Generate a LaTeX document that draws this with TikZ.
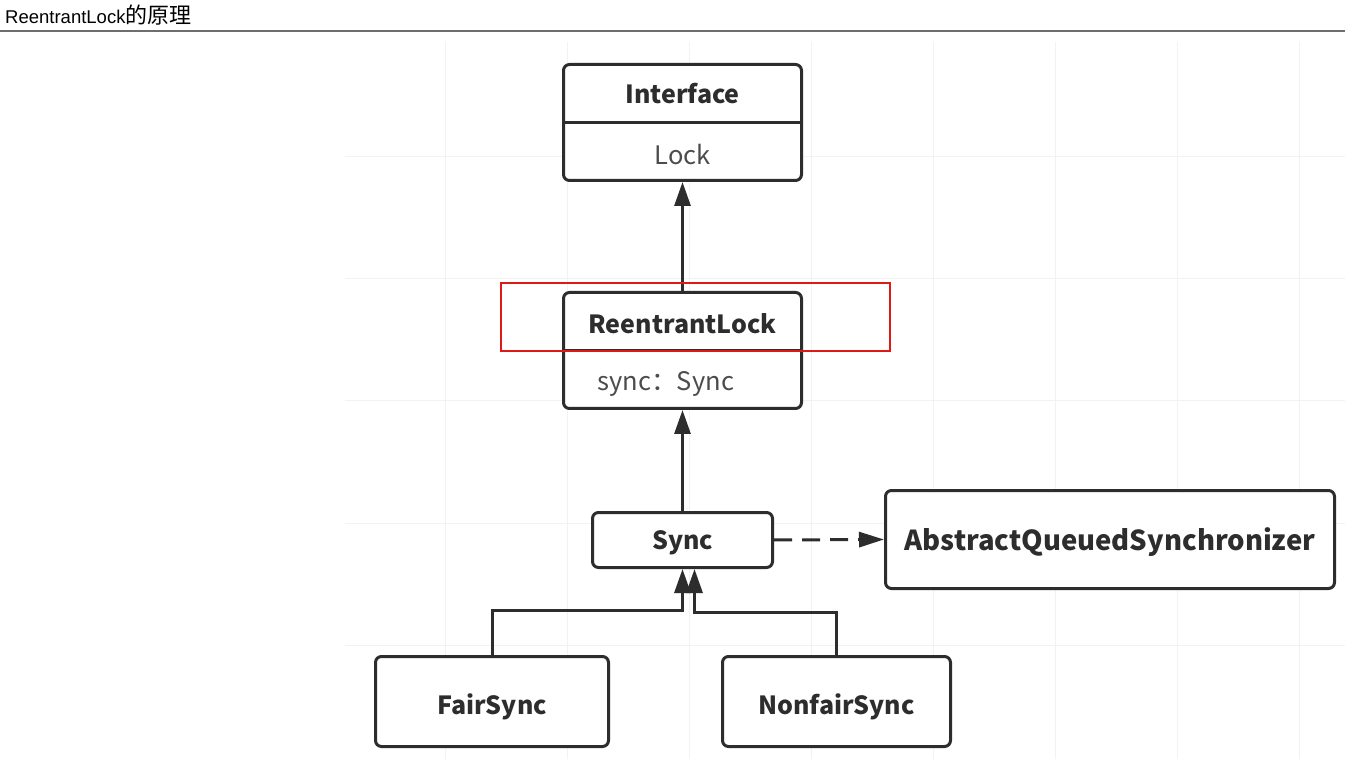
\documentclass[tikz,border=0pt]{standalone}
\usepackage{fontspec}
\setmainfont{Liberation Sans}
\newfontfamily\cjk{Noto Sans CJK SC}
\usepackage{tikz}
\usetikzlibrary{arrows.meta,positioning,calc}
\definecolor{ink}{RGB}{45,45,45}
\definecolor{hlred}{RGB}{222,26,22}
\definecolor{gridc}{RGB}{242,242,242}
\definecolor{rule}{RGB}{110,110,110}
\tikzset{
  classbox/.style={draw=ink, line width=3pt, rounded corners=6pt, fill=white, inner sep=0pt},
  ttl/.style={font=\cjk\bfseries\fontsize{25}{28}\selectfont, text=ink, inner sep=0pt, yshift=-3pt},
  attr/.style={font=\cjk\fontsize{25.5}{28}\selectfont, text=ink!85, inner sep=0pt, yshift=-2pt},
  inherit/.style={draw=ink, line width=3pt, -{Triangle[length=24pt,width=16pt]}},
  depend/.style={draw=ink, line width=3pt, dash pattern=on 18pt off 10pt,
    -{Triangle[length=25pt,width=15pt]}},
  % 背景网格
  gridline/.style={draw=gridc, line width=1pt}
}

\begin{document}
\begin{tikzpicture}[x=1pt, y=-1pt]
  \useasboundingbox (0,0) rectangle (1345,759);
  \fill[white] (0,0) rectangle (1345,759);

  \node[anchor=west, inner sep=0pt, font=\fontsize{18.5}{20}\selectfont] (title) at (5,15)
    {ReentrantLock{\cjk\fontsize{22}{22}\selectfont 的原理}};
  \draw[rule, line width=2pt] (0,31) -- (1345,31);

  \foreach \gx in {445,567,...,1299}
    \draw[gridline] (\gx,42) -- (\gx,759);
  \foreach \gy in {157,279,...,645}
    \draw[gridline] (345,\gy) -- (1345,\gy);

  \node[classbox, minimum width=238pt, minimum height=116pt] (iface) at (682.5,122.5) {};
  \draw[ink, line width=3pt] (iface.west) -- (iface.east);
  \node[ttl, yshift=2pt] (ifaceT) at ($(iface.center)!0.5!(iface.north)$) {Interface};
  \node[attr] (ifaceA) at ($(iface.center)!0.5!(iface.south)$) {Lock};

  \node[classbox, minimum width=238pt, minimum height=116pt] (rlock) at (682.5,350.5) {};
  \draw[ink, line width=3pt] (rlock.west) -- (rlock.east);
  \node[ttl] (rlockT) at ($(rlock.center)!0.5!(rlock.north)$) {ReentrantLock};
  \node[attr, anchor=west, xshift=35pt, yshift=-2pt] (rlockA) at ($(rlock.center)!0.5!(rlock.south) - (120,0)$) {sync：Sync};

  \node[classbox, minimum width=180pt, minimum height=55pt] (sync) at (682.5,540) {};
  \node[ttl] (syncT) at (sync.center) {Sync};

  \node[classbox, minimum width=449pt, minimum height=98pt] (aqs) at (1110,539.5) {};
  \node[ttl, font=\cjk\bfseries\fontsize{27.5}{30}\selectfont] (aqsT) at (aqs.center) {AbstractQueuedSynchronizer};

  \node[classbox, minimum width=233pt, minimum height=90pt] (fair) at (492,701.5) {};
  \node[ttl, yshift=-2pt] (fairT) at (fair.center) {FairSync};

  \node[classbox, minimum width=228pt, minimum height=90pt] (nonfair) at (836.5,701.5) {};
  \node[ttl, yshift=-2pt] (nonfairT) at (nonfair.center) {NonfairSync};

  \draw[inherit] (rlock.north) -- (iface.south);
  \draw[inherit] (sync.north) -- (rlock.south);
  \draw[depend] (sync.east) -- (aqs.west);
  \draw[inherit] (fair.north) |- ($(sync.south)+(0,41)$) -- (sync.south);
  \draw[inherit] (nonfair.north) |- ($(sync.south)+(12,43)$) -- ($(sync.south)+(12,0)$);

  \draw[hlred, line width=2pt] (501,283) rectangle (890,351);
\end{tikzpicture}
\end{document}
